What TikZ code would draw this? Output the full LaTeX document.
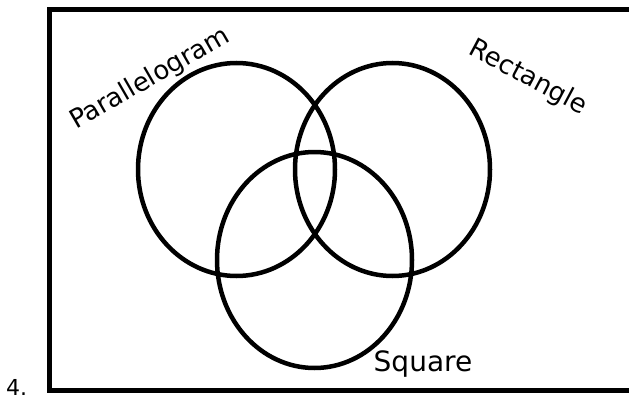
\documentclass[tikz,border=0pt]{standalone}
\usepackage{fontspec}
\setmainfont{DejaVu Sans}
\usepackage{tikz}

\begin{document}
\begin{tikzpicture}[x=1pt,y=-1pt,every node/.style={font=\fontsize{26}{30}\selectfont,inner sep=0pt},
  setline/.style={line width=4.5pt},
  frameline/.style={line width=5pt}]
\useasboundingbox (0,0) rectangle (629,396);
\begin{scope}
\clip (0,0) rectangle (629,396);
\draw[frameline] (49.5,10) rectangle (660,390.5);
\node[anchor=base west,font=\fontsize{22}{26}\selectfont] (num) at (6,395) {4.};
\end{scope}
% the three sets
\draw[setline] (236.5,169.5) ellipse [x radius=98.5, y radius=106.5];
\draw[setline] (392.5,169.5) ellipse [x radius=97.5, y radius=106.5];
\draw[setline] (314.5,260) ellipse [x radius=97.5, y radius=108];
\node[rotate=30] (para) at (150,79) {Parallelogram};
\node[rotate=-28] (rect) at (528,78) {Rectangle};
\node[anchor=base,font=\fontsize{28}{32}\selectfont] (sq) at (423,371) {Square};
\end{tikzpicture}
\end{document}
